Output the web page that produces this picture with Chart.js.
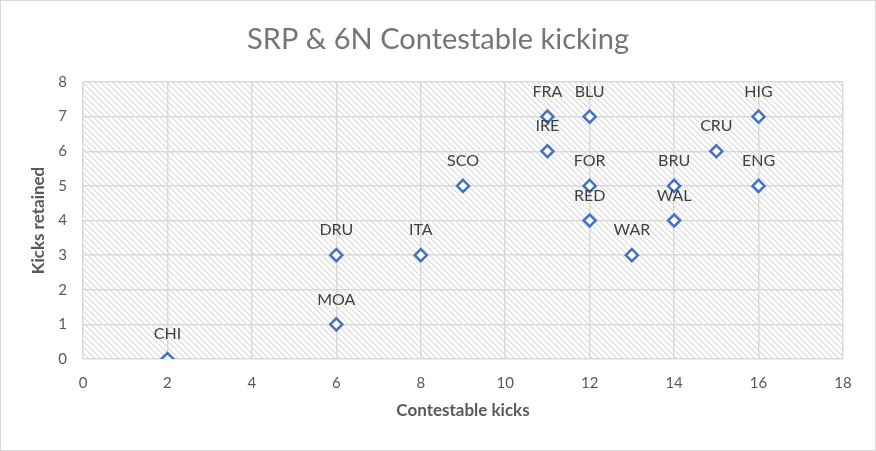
<!DOCTYPE html>
<html>
<head>
<meta charset="utf-8">
<script src="https://cdn.jsdelivr.net/npm/chart.js@4/dist/chart.umd.min.js"></script>
<style>
  html, body { margin: 0; padding: 0; background: #fff; }
  #wrap { width: 876px; height: 451px; position: relative; }
</style>
</head>
<body>
<div id="wrap"><canvas id="c" width="876" height="451"></canvas></div>
<script>
const chartTitle = 'SRP & 6N Contestable kicking';
const teams = ["CHI","MOA","DRU","ITA","SCO","FRA","IRE","BLU","FOR","RED","WAR","BRU","WAL","CRU","HIG","ENG"];
const contestableKicks = [2,6,6,8,9,11,11,12,12,12,13,14,14,15,16,16];
const kicksRetained    = [0,1,3,3,5,7,6,7,5,4,3,5,4,6,7,5];
const xTicks = [0,2,4,6,8,10,12,14,16,18];
const yTicks = [0,1,2,3,4,5,6,7,8];

const points = contestableKicks.map((x, i) => ({ x: x, y: kicksRetained[i] }));
const FONT = 'Lato, "Open Sans", sans-serif';

function makeHatch() {
  const n = 6;
  const t = document.createElement('canvas');
  t.width = n; t.height = n;
  const g = t.getContext('2d');
  g.fillStyle = '#ffffff';
  g.fillRect(0, 0, n, n);
  for (let i = 0; i < n; i++) {
    g.fillStyle = '#dadada';
    g.fillRect(i, i, 1, 1);
    g.fillStyle = '#ededed';
    g.fillRect((i + 1) % n, i, 1, 1);
  }
  return t;
}

const bgPlugin = {
  id: 'bgPlugin',
  beforeDraw(chart) {
    const { ctx, chartArea: a } = chart;
    ctx.save();
    ctx.fillStyle = '#ffffff';
    ctx.fillRect(0, 0, chart.width, chart.height);
    ctx.fillStyle = ctx.createPattern(makeHatch(), 'repeat');
    ctx.fillRect(a.left, a.top, a.right - a.left, a.bottom - a.top);
    ctx.strokeStyle = '#d9d9d9';
    ctx.lineWidth = 1;
    ctx.strokeRect(0.5, 0.5, chart.width - 1, chart.height - 1);
    ctx.fillStyle = '#757575';
    ctx.font = '29px ' + FONT;
    ctx.textAlign = 'center';
    ctx.textBaseline = 'middle';
    ctx.fillText(chartTitle, chart.width / 2, 40);
    ctx.restore();
  }
};

const labelPlugin = {
  id: 'labelPlugin',
  afterDatasetsDraw(chart) {
    const { ctx } = chart;
    const meta = chart.getDatasetMeta(0);
    ctx.save();
    ctx.font = '16px ' + FONT;
    ctx.fillStyle = '#404040';
    ctx.textAlign = 'center';
    ctx.textBaseline = 'middle';
    meta.data.forEach((el, i) => {
      ctx.fillText(teams[i], el.x, el.y - 25);
    });
    ctx.restore();
  }
};

new Chart(document.getElementById('c'), {
  type: 'scatter',
  data: {
    datasets: [{
      label: 'Teams',
      data: points,
      pointStyle: 'rectRot',
      pointRadius: 6,
      pointBorderWidth: 2.5,
      pointBorderColor: '#4472C4',
      pointBackgroundColor: '#ffffff',
      pointHoverRadius: 6
    }]
  },
  options: {
    responsive: false,
    animation: false,
    layout: { padding: { left: 0, right: 33, top: 82, bottom: 0 } },
    plugins: {
      legend: { display: false },
      tooltip: { enabled: false },
      title: { display: false }
    },
    scales: {
      x: {
        type: 'linear',
        min: 0, max: 18,
        afterBuildTicks(scale) { scale.ticks = xTicks.map(v => ({ value: v })); },
        afterFit(scale) { scale.height = 92; },
        grid: { color: '#d9d9d9', lineWidth: 1.5, drawTicks: false },
        border: { display: false },
        ticks: {
          color: '#595959',
          font: { family: FONT, size: 15 },
          padding: 15,
          maxRotation: 0
        },
        title: {
          display: true,
          text: 'Contestable kicks',
          color: '#595959',
          font: { family: FONT, size: 17, weight: 'bold' },
          padding: { top: 0, bottom: 30 }
        }
      },
      y: {
        type: 'linear',
        min: 0, max: 8,
        afterBuildTicks(scale) { scale.ticks = yTicks.map(v => ({ value: v })); },
        afterFit(scale) { scale.width = 83; },
        grid: { color: '#d9d9d9', lineWidth: 1.5, drawTicks: false },
        border: { display: false },
        ticks: {
          color: '#595959',
          font: { family: FONT, size: 15 },
          padding: 16
        },
        title: {
          display: true,
          text: 'Kicks retained',
          color: '#595959',
          font: { family: FONT, size: 17, weight: 'bold' },
          padding: { top: 28, bottom: 0 }
        }
      }
    }
  },
  plugins: [bgPlugin, labelPlugin]
});
</script>
</body>
</html>
